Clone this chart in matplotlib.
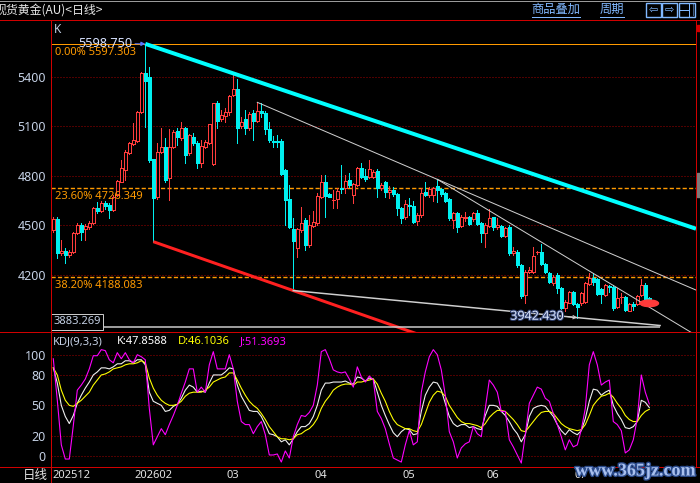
import matplotlib
matplotlib.use('Agg')
import matplotlib.pyplot as plt
import matplotlib.transforms as mtransforms
import matplotlib.patheffects as pe
from matplotlib.patches import Rectangle, Ellipse
from matplotlib.lines import Line2D

plt.rcParams['font.family'] = ['Noto Sans', 'DejaVu Sans']
CJK = ['Noto Sans CJK SC', 'DejaVu Sans']

# ---- daily bars (one entry per trading day) ----
opens = [4472, 4539, 4331, 4345, 4321, 4337, 4452, 4503, 4476, 4490,
         4513, 4607, 4589, 4638, 4624, 4593, 4684, 4765, 4835, 4936,
         4991, 5011, 5184, 5420, 5400, 4902, 4674, 4942, 4973, 4785,
         4973, 5073, 5027, 5087, 4936, 5033, 5001, 4880, 4973, 5001,
         4872, 5239, 5142, 5162, 5188, 5289, 5323, 5104, 5142, 5087,
         5178, 5134, 5194, 5182, 5081, 5013, 5011, 5011, 4835, 4658,
         4476, 4361, 4472, 4533, 4382, 4497, 4517, 4670, 4765, 4688,
         4650, 4660, 4728, 4724, 4775, 4684, 4745, 4845, 4799, 4795,
         4795, 4831, 4724, 4761, 4704, 4714, 4688, 4603, 4549, 4626,
         4618, 4529, 4563, 4700, 4684, 4684, 4739, 4718, 4694, 4658,
         4533, 4573, 4497, 4543, 4553, 4537, 4577, 4517, 4456, 4497,
         4549, 4489, 4497, 4436, 4489, 4335, 4341, 4261, 4079, 4220,
         4220, 4335, 4341, 4267, 4214, 4150, 4200, 4120, 3998, 4033,
         4099, 4025, 4029, 4039, 4146, 4180, 4174, 4113, 4079, 4134,
         4130, 4004, 4061, 4069, 3984, 4025, 4025, 4079, 4140, 4062]
highs = [4553, 4553, 4412, 4361, 4351, 4462, 4513, 4513, 4507, 4525,
         4614, 4644, 4648, 4648, 4634, 4684, 4775, 4896, 4956, 5007,
         5118, 5192, 5426, 5598.75, 5457, 4902, 4997, 5087, 5027, 5083,
         5077, 5087, 5128, 5097, 5053, 5057, 5013, 5017, 5017, 5114,
         5243, 5255, 5198, 5208, 5289, 5420, 5384, 5158, 5198, 5188,
         5198, 5245, 5239, 5194, 5128, 5041, 5047, 5021, 4841, 4745,
         4543, 4482, 4613, 4545, 4563, 4587, 4698, 4805, 4805, 4694,
         4714, 4724, 4866, 4805, 4815, 4755, 4851, 4876, 4839, 4896,
         4835, 4839, 4755, 4768, 4739, 4731, 4695, 4610, 4654, 4664,
         4648, 4573, 4724, 4765, 4730, 4735, 4779, 4724, 4704, 4664,
         4583, 4583, 4563, 4583, 4557, 4583, 4593, 4523, 4517, 4597,
         4553, 4543, 4503, 4493, 4503, 4368, 4351, 4267, 4230, 4250,
         4372, 4345, 4388, 4271, 4220, 4200, 4210, 4126, 4049, 4103,
         4105, 4029, 4099, 4160, 4210, 4210, 4180, 4120, 4146, 4140,
         4140, 4120, 4089, 4075, 4033, 4039, 4079, 4174, 4150, 4066]
lows = [4462, 4305, 4321, 4275, 4311, 4331, 4446, 4412, 4412, 4478,
        4507, 4573, 4583, 4599, 4543, 4587, 4680, 4760, 4775, 4930,
        4987, 5007, 5178, 5098, 4886, 4402, 4660, 4936, 4765, 4654,
        4966, 4987, 5020, 4880, 4926, 4985, 4845, 4856, 4966, 4995,
        4866, 5087, 5134, 5128, 5168, 5283, 4997, 5087, 5053, 5080,
        5017, 5128, 5154, 5053, 5003, 4973, 4973, 4805, 4503, 4485,
        4106, 4311, 4462, 4351, 4372, 4489, 4505, 4664, 4553, 4670,
        4603, 4603, 4694, 4694, 4735, 4638, 4740, 4785, 4771, 4785,
        4790, 4670, 4714, 4670, 4664, 4680, 4563, 4513, 4540, 4563,
        4515, 4503, 4553, 4680, 4672, 4650, 4644, 4680, 4640, 4533,
        4483, 4462, 4489, 4530, 4503, 4530, 4500, 4402, 4372, 4490,
        4470, 4480, 4430, 4428, 4321, 4320, 4250, 4063, 4033, 4210,
        4210, 4330, 4260, 4210, 4150, 4140, 4089, 3990, 3984, 4029,
        4019, 3942.43, 4020, 4029, 4140, 4140, 4079, 4029, 4073, 4100,
        3988, 3998, 4033, 3980, 3980, 3988, 4020, 4073, 4039, 4045]
closes = [4539, 4331, 4345, 4321, 4337, 4452, 4503, 4458, 4497, 4515,
          4604, 4589, 4638, 4620, 4593, 4674, 4771, 4845, 4946, 4997,
          5017, 5184, 5420, 5376, 4896, 4664, 4946, 4973, 4775, 4973,
          5067, 5033, 5087, 4926, 5047, 4997, 4880, 4981, 5005, 5114,
          5239, 5134, 5168, 5188, 5283, 5323, 5091, 5128, 5087, 5174,
          5134, 5194, 5178, 5081, 5017, 5005, 5005, 4811, 4654, 4493,
          4408, 4476, 4513, 4382, 4503, 4519, 4678, 4765, 4678, 4674,
          4654, 4708, 4722, 4769, 4745, 4751, 4845, 4795, 4779, 4839,
          4825, 4724, 4745, 4704, 4714, 4688, 4603, 4543, 4628, 4620,
          4523, 4563, 4694, 4684, 4718, 4724, 4714, 4690, 4650, 4543,
          4573, 4489, 4553, 4553, 4509, 4577, 4509, 4456, 4503, 4543,
          4489, 4503, 4436, 4483, 4331, 4345, 4261, 4073, 4220, 4230,
          4315, 4339, 4267, 4220, 4160, 4190, 4120, 3998, 4039, 4099,
          4025, 4004, 4089, 4154, 4180, 4160, 4085, 4085, 4140, 4126,
          3998, 4059, 4065, 3988, 4025, 4013, 4073, 4140, 4049, 4052]

# KDJ(9,3,3) lines
k_vals = [87, 72, 50, 39, 32, 40, 52, 60, 67, 73,
          80, 83, 87, 87, 86, 88, 91, 91, 94, 94,
          92, 95, 95, 90, 63, 54, 52, 50, 44, 45,
          49, 51, 57, 65, 70, 68, 63, 64, 63, 72,
          80, 80, 80, 83, 87, 86, 70, 59, 52, 45,
          44, 44, 39, 31, 22, 21, 19, 14, 16, 11,
          17, 24, 29, 29, 32, 39, 50, 65, 72, 72,
          73, 73, 73, 74, 72, 71, 78, 77, 74, 77,
          76, 63, 50, 40, 31, 23, 19, 24, 27, 26,
          21, 22, 44, 60, 68, 73, 72, 65, 52, 39,
          32, 29, 31, 31, 28, 29, 27, 26, 40, 50,
          50, 49, 44, 40, 34, 27, 22, 14, 21, 39,
          47, 49, 50, 49, 44, 39, 31, 25, 21, 26,
          23, 21, 25, 37, 54, 66, 65, 60, 63, 65,
          50, 42, 36, 28, 27, 29, 34, 55, 53, 47.8588]
d_vals = [87, 80, 65, 55, 50, 49, 52, 55, 59, 63,
          70, 75, 80, 81, 83, 86, 87, 88, 90, 91,
          91, 92, 94, 92, 77, 67, 60, 55, 52, 50,
          50, 51, 54, 59, 62, 63, 63, 63, 65, 68,
          73, 75, 77, 78, 82, 82, 75, 67, 60, 54,
          50, 47, 42, 36, 29, 24, 19, 17, 17, 16,
          17, 21, 22, 25, 27, 31, 37, 47, 54, 59,
          65, 68, 70, 71, 71, 70, 73, 73, 74, 75,
          76, 71, 62, 54, 44, 36, 31, 29, 27, 27,
          25, 24, 31, 42, 53, 60, 64, 63, 59, 50,
          44, 38, 34, 32, 32, 31, 30, 28, 32, 38,
          42, 45, 45, 44, 40, 36, 31, 25, 24, 29,
          34, 39, 43, 44, 44, 42, 37, 32, 29, 27,
          26, 25, 26, 31, 40, 50, 55, 59, 60, 62,
          58, 52, 47, 40, 36, 34, 34, 40, 44, 46.1036]
j_vals = [96, 55, 11, -3, -3, 30, 65, 70, 76, 86,
          99, 99, 105, 104, 95, 92, 102, 96, 102, 95,
          92, 100, 98, 95, 47, 11, 19, 27, 21, 31,
          40, 50, 62, 73, 86, 86, 63, 68, 63, 90,
          103, 86, 86, 86, 100, 86, 54, 34, 31, 31,
          22, 29, 34, 21, 1, 1, 2, -6, 5, -2,
          19, 31, 40, 39, 43, 50, 70, 103, 105, 96,
          85, 83, 82, 83, 76, 68, 88, 78, 73, 79,
          75, 44, 37, 27, 12, -2, -4, -6, 11, 25,
          11, 14, 63, 83, 98, 105, 100, 85, 60, 24,
          14, -2, 8, 12, 14, 29, 22, 19, 47, 75,
          70, 63, 44, 44, 16, 9, 1, -7, 21, 52,
          60, 68, 66, 57, 54, 42, 31, 19, 6, 16,
          9, 11, 26, 47, 90, 103, 90, 70, 73, 75,
          34, 31, 25, 3, 6, 16, 37, 80, 63, 51.3693]

price_ticks = [5400, 5100, 4800, 4500, 4200]
kdj_ticks = [100, 80, 50, 20, 0]
fib_pcts = ['0.00%', '23.60%', '38.20%']
fib_levels = [5597.303, 4726.349, 4188.083]
axis_low = 3883.269
month_bars = [0, 21, 44, 66, 88, 109, 131]
month_labels = ['202512', '202602', '03', '04', '05', '06', '07']

# colours
RED = '#d00000'
GRID = '#a00000'
UP = '#ff3c3c'
DOWN = '#00f0f0'
ORANGE = '#ff9a00'
AXTXT = '#c4d0e4'
BLUE = '#80b8ff'
GREY = '#cfcfcf'

W, H = 700, 483
PX = 0.72  # one pixel in points


def fx(x):
    return x / W


def fy(y):
    return 1 - y / H


fig = plt.figure(figsize=(7, 4.83), dpi=100, facecolor='black')


def fline(x0, y0, x1, y1, color, lw=1.0, **kw):
    fig.add_artist(Line2D([fx(x0), fx(x1)], [fy(y0), fy(y1)], transform=fig.transFigure,
                          color=color, lw=lw * PX, **kw))


# ---------------- main price panel ----------------
ax = fig.add_axes([fx(51.5), fy(331.5), (696 - 51.5) / W, (331.5 - 19.5) / H], facecolor='black')
ax.set_xlim(-0.45, 160.675)
ax.set_ylim(3858.5, 5746.1)
for s in ax.spines.values():
    s.set_visible(False)
ax.set_xticks([])
ax.set_yticks(price_ticks)
ax.set_yticklabels([str(v) for v in price_ticks])
ax.tick_params(axis='y', length=0, pad=4, labelcolor=AXTXT, labelsize=9)
for t in ax.get_yticklabels():
    t.set_fontweight('bold')

for v in price_ticks:
    ax.axhline(v, color=GRID, lw=PX, ls=(0, (1, 2)), zorder=1)

ax.axhline(fib_levels[0], color=ORANGE, lw=PX, zorder=2)
for lvl in fib_levels[1:]:
    ax.axhline(lvl, color=ORANGE, lw=1.4 * PX, ls=(0, (3, 1.6)), zorder=2)
for pct, lvl in zip(fib_pcts, fib_levels):
    ax.annotate(f'{pct} {lvl:.3f}', xy=(-0.45, lvl), xytext=(2.6, -1.8),
                textcoords='offset points', ha='left', va='top', color=ORANGE, fontsize=8, zorder=7)

# candles
n = len(closes)
for i in range(n):
    o, h, l, c = opens[i], highs[i], lows[i], closes[i]
    if c >= o:
        top, bot = c, o
        ax.vlines(i, top, h, color=UP, lw=PX, antialiased=False, zorder=4)
        ax.vlines(i, l, bot, color=UP, lw=PX, antialiased=False, zorder=4)
        if top - bot < 6:
            ax.hlines(c, i - 0.4, i + 0.4, color=UP, lw=PX, antialiased=False, zorder=4)
        else:
            ax.add_patch(Rectangle((i - 0.4, bot), 0.8, top - bot, fc='black', ec=UP,
                                   lw=PX, antialiased=False, zorder=4))
    else:
        ax.vlines(i, l, h, color=DOWN, lw=PX, antialiased=False, zorder=4)
        ax.add_patch(Rectangle((i - 0.4, c), 0.8, o - c, fc=DOWN, ec=DOWN,
                               lw=PX * 0.6, antialiased=False, zorder=4))


def trend(b0, p0, b1, p1, b_end):
    slope = (p1 - p0) / (b1 - b0)
    return [b0, b_end], [p0, p0 + slope * (b_end - b0)]


xr = 160.675
# channel / trend lines anchored on swing highs and lows
xs, ys = trend(23, highs[23], 45, highs[45], xr)
ax.plot(xs, ys, color='#00ffff', lw=4 * PX, solid_capstyle='butt', zorder=5)
xs, ys = trend(25, lows[25], 60, lows[60], 110)
ax.plot(xs, ys, color='#ff2020', lw=3 * PX, solid_capstyle='butt', zorder=5)
xs, ys = trend(51, highs[51], 96, highs[96], xr)
ax.plot(xs, ys, color=GREY, lw=PX, zorder=5)
xs, ys = trend(96, highs[96], 135, highs[135], xr)
ax.plot(xs, ys, color=GREY, lw=PX, zorder=5)
xs, ys = trend(60, lows[60], 131, lows[131], 151.7)
ax.plot(xs, ys, color=GREY, lw=1.5 * PX, zorder=5)
ax.hlines(axis_low, -0.45, 151.7, color=GREY, lw=1.5 * PX, zorder=5)

# current price marker
ax.add_patch(Ellipse((n - 1, closes[-1] - 23), 4.6, 40, color='#ff3a3a', zorder=6))

# high / low labels
ax.annotate(f'{highs[23]:.3f}', xy=(23, highs[23]), xytext=(-9.4, 0.5), textcoords='offset points',
            ha='right', va='center', color='#d8e2ff', fontsize=9.2, zorder=7,
            arrowprops=dict(arrowstyle='-|>', color='#5a78ff', lw=PX, shrinkA=0, shrinkB=0,
                            relpos=(0, 0.5), mutation_scale=6))
ax.annotate(f'{lows[131]:.3f}', xy=(131, lows[131]), xytext=(-10, 1), textcoords='offset points',
            ha='right', va='center', color='#dde8ff', fontsize=9, zorder=7,
            path_effects=[pe.withStroke(linewidth=1.5, foreground='#304070')],
            arrowprops=dict(arrowstyle='->', color=GREY, lw=PX, shrinkA=1, shrinkB=0,
                            relpos=(1, 0.5), mutation_scale=6))
ax.text(0.1, axis_low, f'{axis_low:.3f}', transform=ax.transData, ha='left', va='bottom',
        color=AXTXT, fontsize=8, zorder=8,
        bbox=dict(boxstyle='square,pad=0.2', fc='black', ec='#c8c8c8', lw=PX))

fig.text(fx(53.5), fy(29.5), 'K', ha='left', va='center', color=AXTXT, fontsize=8.5)

# ---------------- KDJ panel ----------------
ax2 = fig.add_axes([fx(51.5), fy(466.5), (696 - 51.5) / W, (466.5 - 332) / H], facecolor='black')
ax2.set_xlim(-0.45, 160.675)
ax2.set_ylim(-10.37, 122.4)
for s in ax2.spines.values():
    s.set_visible(False)
ax2.set_xticks([])
ax2.set_yticks(kdj_ticks)
ax2.set_yticklabels([str(v) for v in kdj_ticks])
ax2.tick_params(axis='y', length=0, pad=4, labelcolor=AXTXT, labelsize=9)
for t in ax2.get_yticklabels():
    t.set_fontweight('bold')
for v in kdj_ticks:
    ax2.axhline(v, color=GRID, lw=PX, ls=(0, (1, 2)), zorder=1)

bars = list(range(n))
ax2.plot(bars, k_vals, color='#f0f0f0', lw=1.1 * PX, zorder=3)
ax2.plot(bars, d_vals, color='#ffff00', lw=1.1 * PX, zorder=3)
ax2.plot(bars, j_vals, color='#ff00ff', lw=1.1 * PX, zorder=3)

ky = fy(342)
fig.text(fx(53.3), ky, 'KDJ(9,3,3)', color=AXTXT, fontsize=8, va='center')
fig.text(fx(117), ky, f'K:{k_vals[-1]:.4f}', color='#ffffff', fontsize=8, va='center')
fig.text(fx(178), ky, f'D:{d_vals[-1]:.4f}', color='#ffff00', fontsize=8, va='center')
fig.text(fx(240), ky, f'J:{j_vals[-1]:.4f}', color='#ff00ff', fontsize=8, va='center')

# month labels under the panel
tr = mtransforms.blended_transform_factory(ax2.transData, fig.transFigure)
for b, lab in zip(month_bars, month_labels):
    ax2.text(max(b - 0.6, -0.15), fy(475), lab, transform=tr, ha='left', va='center',
             color='#e4e4e4', fontsize=8, clip_on=False)
fig.text(fx(35), fy(475), '日线', family=CJK, color='#e4e4e4', fontsize=9, ha='center', va='center')

# ---------------- frame & header ----------------
fline(0, 0.5, 700, 0.5, '#9a9a9a')
fline(0, 19.5, 700, 19.5, RED)
fline(0, 332, 700, 332, RED)
fline(0, 466.5, 700, 466.5, RED)
fline(51.5, 19.5, 51.5, 483, RED)
fline(696, 19.5, 696, 466.5, RED)
fig.add_artist(Rectangle((fx(697), fy(31)), 3 / W, 6 / H, transform=fig.transFigure, color=RED))
fig.add_artist(Rectangle((fx(697), fy(197)), 3 / W, 24 / H, transform=fig.transFigure, color='#7a7a7a'))

fig.text(fx(-6), fy(10), '现货黄金(AU)<日线>', family=CJK, color='#e8e8e8', fontsize=8.6,
         ha='left', va='center')

fig.text(fx(556), fy(9.5), '商品叠加', family=CJK, color=BLUE, fontsize=8.8, ha='center', va='center')
fig.text(fx(612), fy(9.5), '周期', family=CJK, color=BLUE, fontsize=8.8, ha='center', va='center')
fline(532, 16.5, 580, 16.5, BLUE)
fline(600, 16.5, 624, 16.5, BLUE)
for x0, w in [(646, 15), (662, 15), (679, 16)]:
    fig.add_artist(Rectangle((fx(x0), fy(16.5)), w / W, 13.5 / H, transform=fig.transFigure,
                             fill=False, ec=BLUE, lw=1.4 * PX))
fig.text(fx(653.5), fy(10), '⇦', family=['DejaVu Sans'], color=BLUE, fontsize=8, ha='center', va='center')
fig.text(fx(669.5), fy(10), '⇨', family=['DejaVu Sans'], color=BLUE, fontsize=8, ha='center', va='center')
fline(689, 4, 689, 16, BLUE)
fline(680, 10, 689, 10, BLUE)
fline(692.5, 4, 692.5, 16, BLUE, ls=(0, (1, 1)))

# site watermark
fig.text(fx(635), fy(471), 'www.365jz.com', family=['Liberation Serif'], fontweight='bold',
         fontsize=13, color='#a9c0ee', ha='center', va='center',
         path_effects=[pe.withStroke(linewidth=2, foreground='#2a4a8a')])

fig.savefig('out.png', dpi=100, facecolor='black')
